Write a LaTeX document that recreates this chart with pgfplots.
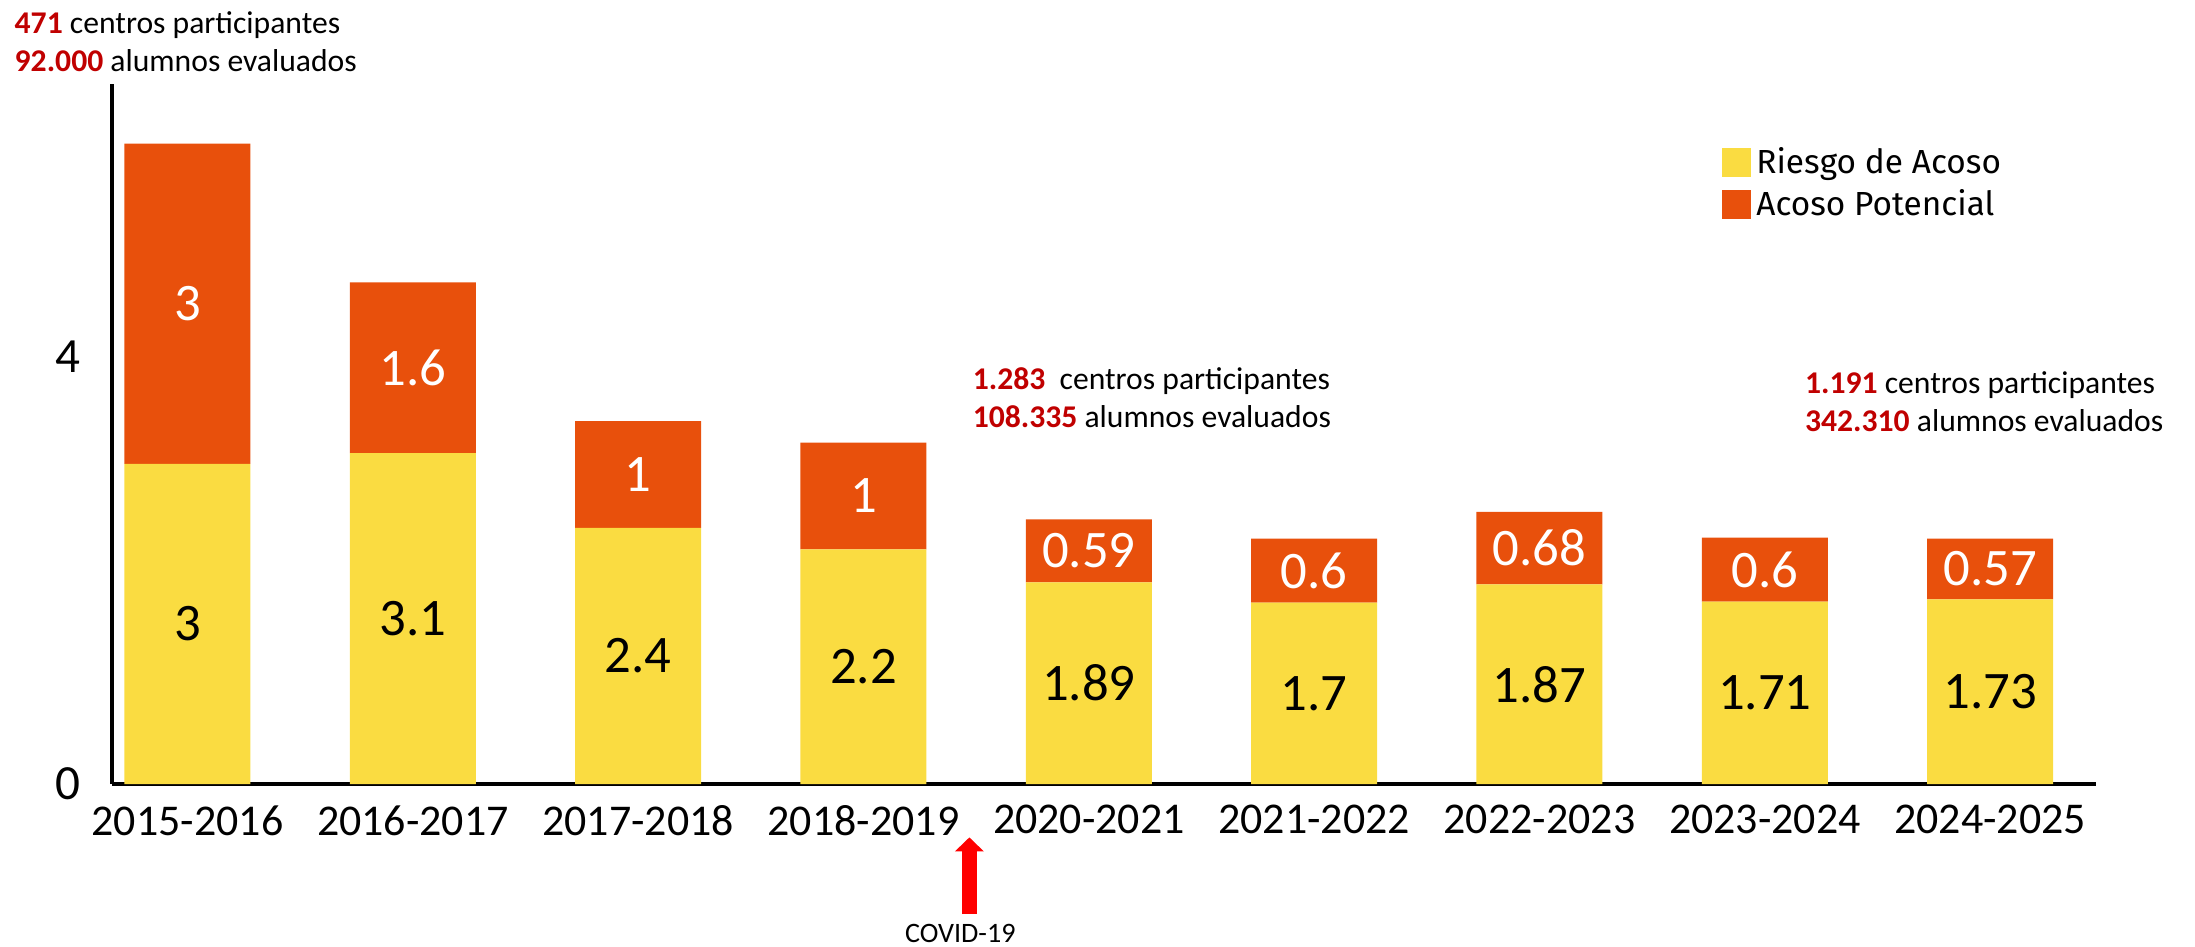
\documentclass[border=0pt]{standalone}
\usepackage{pgfplots}
\pgfplotsset{compat=1.18}
\usepackage{fontspec}
\setmainfont{Carlito}
\newfontfamily\legfont{Fira Sans}
\usetikzlibrary{arrows.meta}

\definecolor{barYellow}{HTML}{FADC41}
\definecolor{barOrange}{HTML}{E8500C}
\definecolor{numRed}{HTML}{C00000}
\definecolor{arrowRed}{HTML}{FF0000}

\pgfplotsset{
  frame/.style={
    scale only axis, width=198.4mm, height=70mm,
    xmin=-0.335, xmax=8.47, ymin=0, ymax=6.56,
    clip=false,
  },
  seglabel/.style={
    draw=none, mark=none, nodes near coords,
    point meta=explicit symbolic,
    every node near coord/.append style={anchor=center, font=\fontsize{15}{17}\selectfont, text=#1},
  },
}
\newcommand{\info}[2]{\textcolor{numRed}{\textbf{#1}}#2}

\begin{document}
\begin{tikzpicture}
\begin{axis}[frame, name=ax,
  ybar stacked, bar width=12.6mm,
  axis x line*=bottom, axis y line*=left,
  axis line style={line width=0.9pt, -},
  xtick={0,...,8},
  xticklabels={2015-2016,2016-2017,2017-2018,2018-2019,2020-2021,2021-2022,2022-2023,2023-2024,2024-2025},
  ytick={0,4},
  major tick length=0pt,
  /pgf/number format/assume math mode=true,
  x tick label style={font=\fontsize{12.5}{14}\selectfont, yshift=-0.9mm},
  y tick label style={font=\fontsize{14}{16}\selectfont, xshift=-1.9mm},
  legend style={draw=none, fill=none, at={(rel axis cs:0.806,0.927)}, anchor=north west,
    font=\legfont\fontsize{9.5}{11}\selectfont, row sep=0mm,
    nodes={inner sep=0.5mm}},
  legend cell align=left,
  legend image code/.code={\fill[#1] (0mm,-1.4mm) rectangle (2.9mm,1.5mm);},
]
\addplot[fill=barYellow, draw=none] coordinates {(0,3) (1,3.1) (2,2.4) (3,2.2) (4,1.89) (5,1.7) (6,1.87) (7,1.71) (8,1.73)};
\addplot[fill=barOrange, draw=none] coordinates {(0,3) (1,1.6) (2,1) (3,1) (4,0.59) (5,0.6) (6,0.68) (7,0.6) (8,0.57)};
\legend{Riesgo de Acoso, Acoso Potencial}

\node[anchor=west, align=left, inner sep=0pt, font=\fontsize{9}{10.8}\selectfont]
  at (rel axis cs:-0.0494,1.06) {\info{471}{ centros participantes}\\\info{92.000}{ alumnos evaluados}};
\node[anchor=west, align=left, inner sep=0pt, font=\fontsize{9}{10.8}\selectfont]
  at (rel axis cs:0.4335,0.552) {\info{1.283}{\ \ centros participantes}\\\info{108.335}{ alumnos evaluados}};
\node[anchor=west, align=left, inner sep=0pt, font=\fontsize{9}{10.8}\selectfont]
  at (rel axis cs:0.853,0.546) {\info{1.191}{ centros participantes}\\\info{342.310}{ alumnos evaluados}};

% COVID marker below the axis
\draw[arrowRed, line width=1.5mm, -{Triangle[width=2.8mm,length=1.4mm]}]
  (axis cs:3.47,-1.22) -- (axis cs:3.47,-0.5);
\node[font=\fontsize{8}{9}\selectfont, inner sep=0pt] at (axis cs:3.43,-1.40) {COVID-19};
\end{axis}

% segment values, centred in each block
\begin{axis}[frame, hide axis]
\addplot[seglabel=black] coordinates {(0,1.5)[3] (1,1.55)[3.1] (2,1.2)[2.4] (3,1.1)[2.2] (4,0.945)[1.89] (5,0.85)[1.7] (6,0.935)[1.87] (7,0.855)[1.71] (8,0.865)[1.73]};
\addplot[seglabel=white] coordinates {(0,4.5)[3] (1,3.9)[1.6] (2,2.9)[1] (3,2.7)[1] (4,2.185)[0.59] (5,2.0)[0.6] (6,2.21)[0.68] (7,2.01)[0.6] (8,2.015)[0.57]};
\end{axis}

\path[use as bounding box] ([xshift=-11.2mm,yshift=-16.2mm]ax.south west) rectangle ([xshift=9.9mm,yshift=8.4mm]ax.north east);
\end{tikzpicture}
\end{document}
